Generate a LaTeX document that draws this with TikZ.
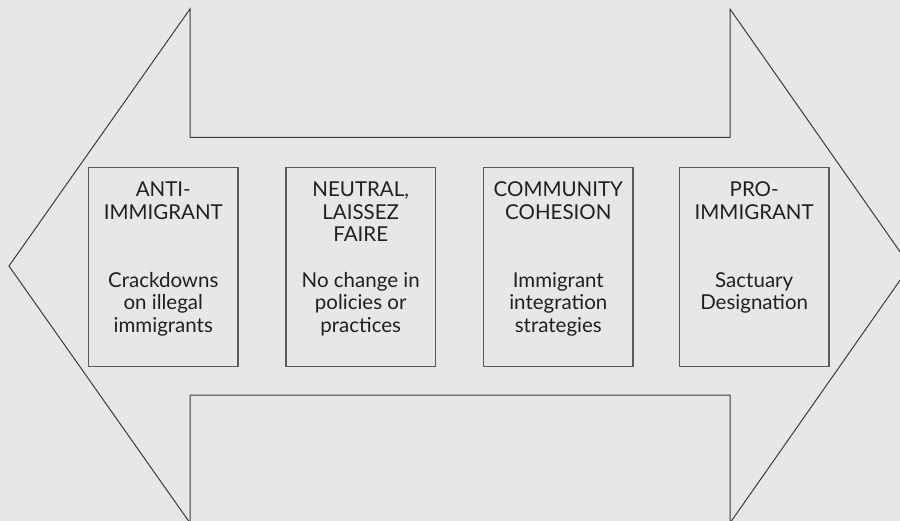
\documentclass[tikz,border=0pt]{standalone}
\usepackage{fontspec}
\setmainfont{Lato}
\definecolor{bgcol}{HTML}{E6E7E8}
\definecolor{inkcol}{HTML}{231F20}
\definecolor{linecol}{HTML}{3C3C3C}
\definecolor{boxcol}{HTML}{5A5A5A}
\begin{document}
\begin{tikzpicture}[x=1pt,y=-1pt,
  outline/.style={draw=linecol,line width=1pt,line join=miter},
  stagebox/.style={draw=boxcol,line width=1.3pt,minimum width=149.5pt,minimum height=199pt,inner sep=0pt},
  % text blocks hang from the baseline of their first line
  label/.style={text=inkcol,align=center,inner sep=0pt,anchor=north,
    font=\fontsize{20.5}{22.3}\selectfont,execute at begin node=\strut}]
  % canvas
  \fill[bgcol] (0,0) rectangle (900,521);
  \useasboundingbox (0,0) rectangle (900,521);
  \clip (0,0) rectangle (900,521);

  % double-headed arrow outline
  \draw[outline] (9,266) -- (190,9) -- (190,137.5) -- (730,137.5) -- (730,9)
    -- (910,266) -- (730,523) -- (730,395) -- (190,395) -- (190,523) -- cycle;

  % the four positions
  \node[stagebox] (b1) at (163.3,267.2) {};
  \node[stagebox] (b2) at (360.7,267.2) {};
  \node[stagebox] (b3) at (558.3,267.2) {};
  \node[stagebox] (b4) at (754.2,267.2) {};

  % headings (first baseline at 197.5)
  \node[label] (h1) at (b1.center |- 0,181.9) {ANTI-\\IMMIGRANT};
  \node[label] (h2) at (b2.center |- 0,181.9) {NEUTRAL,\\LAISSEZ\\FAIRE};
  \node[label] (h3) at (b3.center |- 0,181.9) {COMMUNITY\\COHESION};
  \node[label] (h4) at (b4.center |- 0,181.9) {PRO-\\IMMIGRANT};

  % descriptions (first baseline at 288)
  \node[label] (t1) at (b1.center |- 0,272.4) {Crackdowns\\on illegal\\immigrants};
  \node[label] (t2) at (b2.center |- 0,272.4) {No change in\\policies or\\practices};
  \node[label] (t3) at (b3.center |- 0,272.4) {Immigrant\\integration\\strategies};
  \node[label] (t4) at (b4.center |- 0,272.4) {Sactuary\\Designation};
\end{tikzpicture}
\end{document}
